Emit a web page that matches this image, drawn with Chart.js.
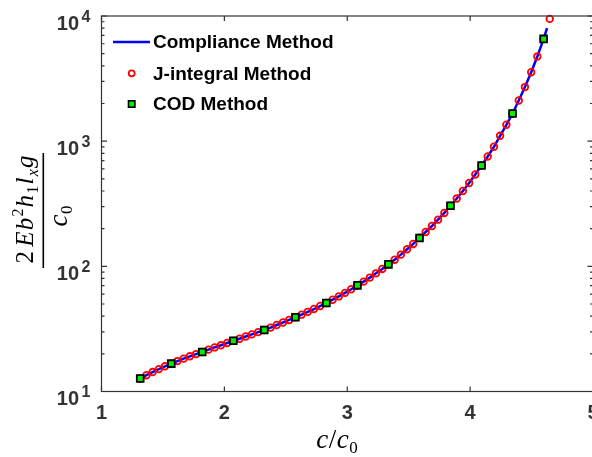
<!DOCTYPE html>
<html>
<head>
<meta charset="utf-8">
<script src="https://cdn.jsdelivr.net/npm/chart.js@4.4.0/dist/chart.umd.min.js"></script>
<style>
  html, body { margin: 0; padding: 0; background: #fff; overflow: hidden; }
  #wrap { width: 600px; height: 457px; }
</style>
</head>
<body>
<div id="wrap"><canvas id="myChart" width="600" height="457"></canvas></div>
<script>
// J-integral samples (c/c0 and normalised value)
var jX = [1.315, 1.366, 1.416, 1.467, 1.517, 1.568, 1.618, 1.669, 1.719, 1.770,
          1.820, 1.871, 1.921, 1.972, 2.022, 2.073, 2.123, 2.174, 2.224, 2.275,
          2.325, 2.376, 2.426, 2.477, 2.527, 2.578, 2.628, 2.679, 2.729, 2.780,
          2.830, 2.881, 2.931, 2.982, 3.032, 3.083, 3.133, 3.184, 3.234, 3.285,
          3.335, 3.386, 3.436, 3.487, 3.537, 3.588, 3.638, 3.689, 3.739, 3.790,
          3.840, 3.891, 3.941, 3.992, 4.042, 4.093, 4.143, 4.194, 4.244, 4.295,
          4.345, 4.396, 4.446, 4.497, 4.547, 4.598, 4.648];
var jY = [12.7, 13.5, 14.3, 15.1, 15.9, 16.7, 17.5, 18.3, 19.1, 19.9,
          20.7, 21.6, 22.5, 23.4, 24.4, 25.4, 26.4, 27.5, 28.6, 29.8,
          31.0, 32.4, 34.0, 35.6, 37.3, 39.2, 41.1, 43.3, 45.6, 48.2,
          51.0, 54.1, 57.5, 61.4, 65.6, 70.5, 75.5, 81.3, 87.9, 95.3,
          103.7, 113, 124, 137, 151, 169, 188, 210, 236, 267,
          305, 348, 400, 463, 542, 639, 755, 902, 1104, 1352,
          1663, 2113, 2704, 3556, 4742, 6561, 9484];

// COD samples
var codX = [1.315, 1.568, 1.820, 2.073, 2.325, 2.578, 2.830, 3.083, 3.335, 3.588, 3.840, 4.093, 4.345, 4.598];
var codY = [12.7, 16.7, 20.7, 25.4, 31.0, 39.2, 51.0, 70.5, 103.7, 168.6, 304.8, 639, 1663, 6561];

// compliance curve follows the J-integral points and stops just short of the last one
var compEndX = 4.626;
var compEndY = 8000;
var complianceX = jX.slice(0, 66).concat([compEndX]);
var complianceY = jY.slice(0, 66).concat([compEndY]);

// axis ticks
var xTicks = [1, 2, 3, 4, 5];
var yMajor = [10, 100, 1000, 10000];
var yExp = ['1', '2', '3', '4'];
var yMinor = [20, 30, 40, 50, 60, 70, 80, 90,
              200, 300, 400, 500, 600, 700, 800, 900,
              2000, 3000, 4000, 5000, 6000, 7000, 8000, 9000];

var seriesNames = ['Compliance Method', 'J-integral Method', 'COD Method'];

var axisColor = '#333333';
var tickFont = 'bold 20px "Liberation Sans", Arial, sans-serif';
var expFont = 'bold 16px "Liberation Sans", Arial, sans-serif';
var legendFont = 'bold 19px "Liberation Sans", Arial, sans-serif';
var mathIt = function(size) { return 'italic ' + size + 'px "Liberation Serif", "Times New Roman", serif'; };
var mathUp = function(size) { return size + 'px "Liberation Serif", "Times New Roman", serif'; };

function toPoints(xs, ys) {
    return xs.map(function(x, i) { return { x: x, y: ys[i] }; });
}

// draw a run of text pieces one after another along the baseline
function drawPieces(ctx, pieces, x, y, gap) {
    pieces.forEach(function(p) {
        ctx.font = p.font;
        ctx.fillText(p.t, x, y + (p.dy || 0));
        x += ctx.measureText(p.t).width + gap + (p.after || 0);
    });
}

function piecesWidth(ctx, pieces, gap) {
    var w = 0;
    pieces.forEach(function(p) {
        ctx.font = p.font;
        w += ctx.measureText(p.t).width + gap + (p.after || 0);
    });
    return w - gap;
}

var frame = {
    id: 'frame',
    afterDraw: function(chart) {
        var ctx = chart.ctx;
        var a = chart.chartArea;
        var xs = chart.scales.x;
        var ys = chart.scales.y;
        ctx.save();

        // box and inward ticks
        ctx.strokeStyle = axisColor;
        ctx.lineWidth = 1.2;
        ctx.strokeRect(a.left, a.top, a.right - a.left, a.bottom - a.top);
        ctx.beginPath();
        xTicks.forEach(function(v) {
            var px = xs.getPixelForValue(v);
            ctx.moveTo(px, a.bottom); ctx.lineTo(px, a.bottom - 5);
            ctx.moveTo(px, a.top); ctx.lineTo(px, a.top + 5);
        });
        yMajor.forEach(function(v) {
            var py = ys.getPixelForValue(v);
            ctx.moveTo(a.left, py); ctx.lineTo(a.left + 5.5, py);
            ctx.moveTo(a.right, py); ctx.lineTo(a.right - 5.5, py);
        });
        yMinor.forEach(function(v) {
            var py = ys.getPixelForValue(v);
            ctx.moveTo(a.left, py); ctx.lineTo(a.left + 3, py);
            ctx.moveTo(a.right, py); ctx.lineTo(a.right - 3, py);
        });
        ctx.stroke();

        // tick labels
        ctx.fillStyle = axisColor;
        ctx.textBaseline = 'alphabetic';
        ctx.font = tickFont;
        ctx.textAlign = 'center';
        xTicks.forEach(function(v) {
            ctx.fillText(String(v), xs.getPixelForValue(v), a.bottom + 27);
        });
        yMajor.forEach(function(v, i) {
            var py = ys.getPixelForValue(v);
            ctx.font = tickFont;
            ctx.textAlign = 'right';
            ctx.fillText('10', 79, py + 13.5);
            ctx.font = expFont;
            ctx.textAlign = 'left';
            ctx.fillText(yExp[i], 81.5, py + 5.5);
        });

        // x axis title: c/c0
        ctx.fillStyle = '#000';
        ctx.textAlign = 'left';
        var xt = [
            { t: 'c', font: mathIt(27) },
            { t: '/', font: mathUp(27) },
            { t: 'c', font: mathIt(27) },
            { t: '0', font: mathUp(17), dy: 5 }
        ];
        var xw = piecesWidth(ctx, xt, 0.5);
        drawPieces(ctx, xt, 337 - xw / 2, 448, 0.5);

        // y axis title: fraction, rotated
        ctx.save();
        ctx.translate(43.3, 210.5);
        ctx.rotate(-Math.PI / 2);
        ctx.fillRect(-57.5, -0.8, 115, 1.6);
        var num = [
            { t: '2', font: mathUp(25), after: 3 },
            { t: 'E', font: mathIt(25) },
            { t: 'b', font: mathIt(25) },
            { t: '2', font: mathUp(16), dy: -10 },
            { t: 'h', font: mathIt(25) },
            { t: '1', font: mathUp(16), dy: 5 },
            { t: 'l', font: mathIt(25) },
            { t: 'x', font: mathIt(16), dy: 5 },
            { t: 'g', font: mathIt(25) }
        ];
        var nw = piecesWidth(ctx, num, 1.2);
        drawPieces(ctx, num, 1 - nw / 2, -10.3, 1.2);
        var den = [
            { t: 'c', font: mathIt(27) },
            { t: '0', font: mathUp(17), dy: 5 }
        ];
        var dw = piecesWidth(ctx, den, 0.5);
        drawPieces(ctx, den, -5.5 - dw / 2, 23.5, 0.5);
        ctx.restore();

        // legend in the upper left corner of the plot
        var lx = 113, ly = [42, 73.3, 104];
        ctx.strokeStyle = '#0000ff';
        ctx.lineWidth = 2.5;
        ctx.beginPath();
        ctx.moveTo(lx, ly[0]); ctx.lineTo(lx + 37, ly[0]);
        ctx.stroke();
        ctx.strokeStyle = '#ff0000';
        ctx.lineWidth = 1.8;
        ctx.beginPath();
        ctx.arc(lx + 18.7, ly[1], 3, 0, Math.PI * 2);
        ctx.stroke();
        ctx.fillStyle = '#00ee00';
        ctx.strokeStyle = '#000';
        ctx.lineWidth = 1.6;
        ctx.fillRect(lx + 18.7 - 3.2, ly[2] - 3.2, 6.4, 6.4);
        ctx.strokeRect(lx + 18.7 - 3.2, ly[2] - 3.2, 6.4, 6.4);
        ctx.fillStyle = '#000';
        ctx.font = legendFont;
        ctx.textAlign = 'left';
        seriesNames.forEach(function(n, i) {
            ctx.fillText(n, 153, ly[i] + 6.3);
        });

        ctx.restore();
    }
};

var ctx = document.getElementById('myChart').getContext('2d');
var config = {
    type: 'scatter',
    data: {
        datasets: [{
            label: seriesNames[0],
            data: toPoints(complianceX, complianceY),
            showLine: true,
            borderColor: '#0000ff',
            borderWidth: 2.5,
            pointRadius: 0,
            tension: 0,
            clip: false,
            order: 3
        }, {
            label: seriesNames[1],
            data: toPoints(jX, jY),
            showLine: false,
            pointStyle: 'circle',
            pointRadius: 3.3,
            borderColor: '#ff0000',
            backgroundColor: 'rgba(0,0,0,0)',
            pointBorderWidth: 1.8,
            clip: false,
            order: 2
        }, {
            label: seriesNames[2],
            data: toPoints(codX, codY),
            showLine: false,
            pointStyle: 'rect',
            pointRadius: 4.8,
            borderColor: '#000000',
            backgroundColor: '#00ee00',
            pointBorderWidth: 1.8,
            clip: false,
            order: 1
        }]
    },
    options: {
        responsive: false,
        animation: false,
        devicePixelRatio: 1,
        layout: { padding: { left: 101.5, top: 16, right: 7, bottom: 65.5 } },
        scales: {
            x: { type: 'linear', min: 1, max: 5, display: false },
            y: { type: 'logarithmic', min: 10, max: 10000, display: false }
        },
        plugins: {
            legend: { display: false },
            tooltip: { enabled: false }
        }
    },
    plugins: [frame]
};

var myChart = new Chart(ctx, config);
</script>
</body>
</html>
